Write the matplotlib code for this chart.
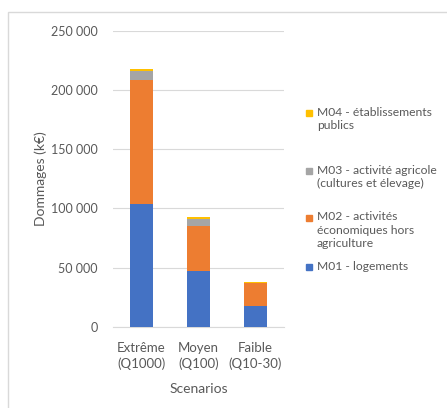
import numpy as np
import matplotlib
matplotlib.use('Agg')
import matplotlib.pyplot as plt
from matplotlib.patches import Rectangle

plt.rcParams['font.family'] = ['Lato', 'DejaVu Sans']

scenarios = ['Extrême\n(Q1000)', 'Moyen\n(Q100)', 'Faible\n(Q10-30)']
m01 = [104000, 47000, 18000]
m02 = [104500, 38500, 19000]
m03 = [7700, 5500, 300]
m04 = [2000, 1500, 200]

series = [m01, m02, m03, m04]
labels = ['M01 - logements',
          'M02 - activités\néconomiques hors\nagriculture',
          'M03 - activité agricole\n(cultures et élevage)',
          'M04 - établissements\npublics']
colors = ['#4472C4', '#ED7D31', '#A5A5A5', '#FFC000']

txt = '#595959'
fig = plt.figure(figsize=(4.47, 4.08), dpi=100)
ax = fig.add_axes([0.253, 0.199, 0.382, 0.725])

x = np.arange(len(scenarios))
bottom = np.zeros(len(scenarios))
for vals, col in zip(series, colors):
    ax.bar(x, vals, bottom=bottom, width=0.4, color=col, zorder=3)
    bottom += np.array(vals)

ax.set_xlim(-0.5, 2.5)
ax.set_ylim(0, 250000)
ax.set_yticks(np.arange(0, 250001, 50000))
ax.set_yticklabels(['0' if v == 0 else f'{v//1000} 000' for v in range(0, 250001, 50000)])
ax.set_xticks(x)
ax.set_xticklabels(scenarios, linespacing=1.35)
ax.grid(axis='y', color='#D9D9D9', lw=0.8, zorder=0)
for s in ['top', 'right', 'left']:
    ax.spines[s].set_visible(False)
ax.spines['bottom'].set_color('#D9D9D9')
ax.tick_params(length=0, colors=txt, labelsize=9)
ax.tick_params(axis='y', pad=11)
ax.tick_params(axis='x', pad=11, labelsize=9.5)
ax.set_ylabel('Dommages (k€)', color=txt, fontsize=10, labelpad=3)
ax.set_xlabel('Scenarios', color=txt, fontsize=10, labelpad=9)

# legend, top entry first
leg_y = [113, 171, 218, 267]
for lab, col, yp in zip(labels[::-1], colors[::-1], leg_y):
    fy = 1 - yp / 408
    fig.patches.append(Rectangle((306 / 447, fy - 3 / 408), 6 / 447, 6 / 408,
                                 transform=fig.transFigure, color=col))
    fig.text(317 / 447, fy + 6.5 / 408, lab, color=txt, fontsize=8.7, va='top',
             ha='left', linespacing=1.25)

# chart border
fig.patches.append(Rectangle((7.5 / 447, -0.1), 1.2, 1.1 - 12.5 / 408,
                             transform=fig.transFigure, fill=False,
                             ec='#D9D9D9', lw=1))

fig.savefig('out.png', dpi=100)
